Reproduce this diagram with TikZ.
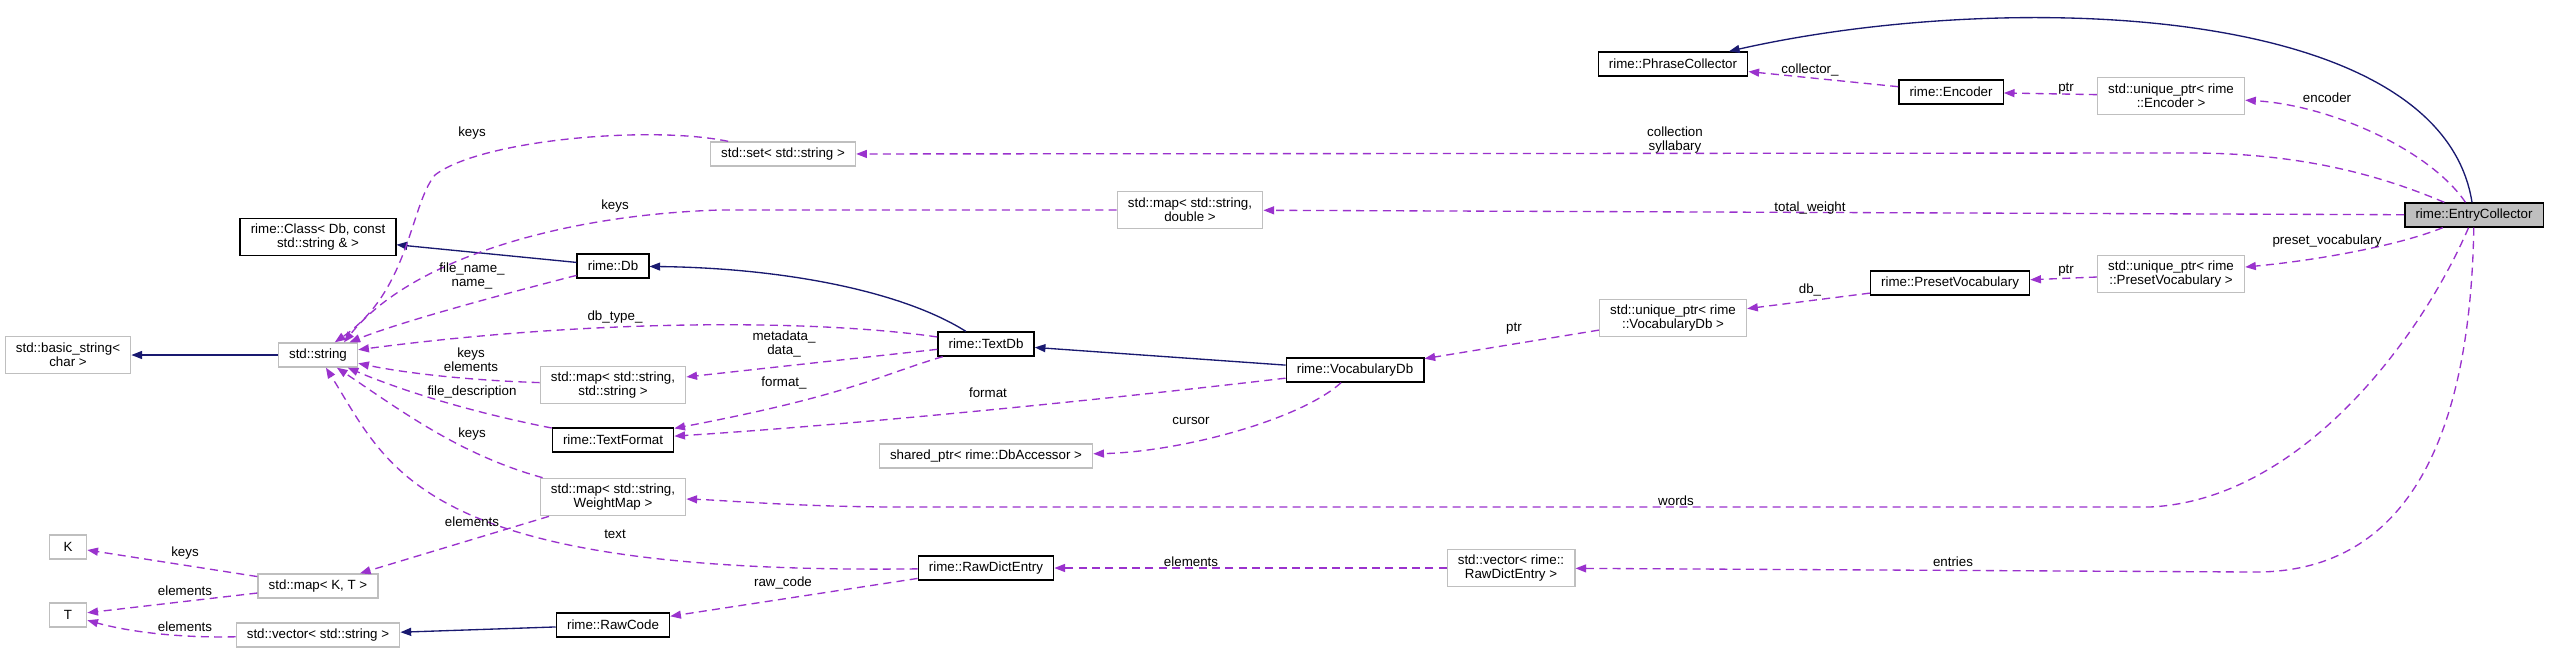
\documentclass[tikz,border=0pt]{standalone}
\usepackage{fontspec}
\setmainfont{Liberation Sans}
\usetikzlibrary{arrows.meta}

\begin{document}
\begin{tikzpicture}[x=0.75pt,y=-0.75pt,font=\fontsize{10}{10.5}\selectfont,
   clsbox/.style={draw=black,fill=white,line width=1pt,inner xsep=8pt,inner ysep=3pt,minimum height=18pt,minimum width=28pt,align=center},
   extbox/.style={clsbox,draw=extgray},
   curbox/.style={clsbox,fill=extgray},
   tall/.style={minimum height=28pt},
   inherit/.style={draw=midblue,line width=1pt,-{Triangle[length=8pt,width=6pt]}},
   uses/.style={draw=usepurple,line width=1pt,dash pattern=on 6pt off 4pt,-{Triangle[length=8pt,width=6pt]}},
   lbl/.style={inner sep=0pt,align=center}]
   \definecolor{extgray}{HTML}{BFBFBF}
   \definecolor{midblue}{HTML}{191970}
   \definecolor{usepurple}{HTML}{9A32CD}
   \fill[white] (0,0) rectangle (2550,653);
   \useasboundingbox (0,0) rectangle (2550,653);

   \node[curbox] (ec) at (2474,215) {rime::EntryCollector};
   \node[clsbox] (phrase) at (1673,64) {rime::PhraseCollector};
   \node[clsbox] (enc) at (1951,92) {rime::Encoder};
   \node[extbox,tall] (uenc) at (2171,96) {std::unique\_ptr< rime\\::Encoder >};
   \node[clsbox] (pv) at (1950,283) {rime::PresetVocabulary};
   \node[extbox,tall] (upv) at (2171,274) {std::unique\_ptr< rime\\::PresetVocabulary >};
   \node[extbox,tall] (uvdb) at (1673,318) {std::unique\_ptr< rime\\::VocabularyDb >};
   \node[clsbox] (vdb) at (1355,370) {rime::VocabularyDb};
   \node[clsbox] (tdb) at (986,344) {rime::TextDb};
   \node[extbox] (set) at (783,154) {std::set< std::string >};
   \node[extbox,tall] (mapd) at (1190,210) {std::map< std::string,\\double >};
   \node[extbox] (sptr) at (986,456) {shared\_ptr< rime::DbAccessor >};
   \node[clsbox] (db) at (613,266) {rime::Db};
   \node[clsbox,tall] (cls) at (318,237) {rime::Class< Db, const\\std::string \& >};
   \node[extbox,tall] (bstr) at (68,355) {std::basic\_string<\\char >};
   \node[extbox] (str) at (318,355) {std::string};
   \node[extbox,tall] (maps) at (613,385) {std::map< std::string,\\std::string >};
   \node[clsbox] (tf) at (613,440) {rime::TextFormat};
   \node[extbox,tall] (mapwm) at (613,497) {std::map< std::string,\\WeightMap >};
   \node[extbox] (k) at (68,547) {K};
   \node[extbox] (mapkt) at (318,586) {std::map< K, T >};
   \node[extbox] (t) at (68,615) {T};
   \node[extbox] (vecs) at (318,635) {std::vector< std::string >};
   \node[clsbox] (rawcode) at (613,625) {rime::RawCode};
   \node[clsbox] (rde) at (986,568) {rime::RawDictEntry};
   \node[extbox,tall] (vrde) at (1511,568) {std::vector< rime::\\RawDictEntry >};

   \draw[inherit] (ec) .. controls (2440,0) and (2000,-10) .. (phrase);
   \draw[inherit] (db) -- (cls);
   \draw[inherit] (tdb) .. controls (900,290) and (780,268) .. (db);
   \draw[inherit] (vdb) -- (tdb);
   \draw[inherit] (str) -- (bstr);
   \draw[inherit] (rawcode) -- (vecs);

   \draw[uses] (enc) -- (phrase);
   \draw[uses] (uenc) -- (enc);
   \draw[uses] (ec) .. controls (2430,150) and (2330,105) .. (uenc);
   \draw[uses] (ec) .. controls (2380,175) and (2300,153) .. (2190,153) -- (set);
   \draw[uses] (ec) -- (mapd);
   \draw[uses] (ec) .. controls (2400,245) and (2320,260) .. (upv);
   \draw[uses] (upv) -- (pv);
   \draw[uses] (pv) -- (uvdb);
   \draw[uses] (uvdb) -- (vdb);
   \draw[uses] (vdb) .. controls (1100,400) and (850,425) .. (tf);
   \draw[uses] (tdb) .. controls (880,375) and (850,395) .. (tf);
   \draw[uses] (tdb) -- (maps);
   \draw[uses] (vdb) .. controls (1300,420) and (1180,452) .. (sptr);
   \draw[uses] (ec) .. controls (2420,340) and (2300,500) .. (2150,507) -- (900,507) .. controls (800,507) and (720,500) .. (mapwm);
   \draw[uses] (ec) .. controls (2470,450) and (2400,575) .. (2250,572) -- (vrde);
   \draw[uses] (vrde) -- (rde);
   \draw[uses] (rde) -- (rawcode);
   \draw[uses] (rde) .. controls (420,575) and (390,470) .. (str);
   \draw[uses] (mapwm) .. controls (460,455) and (400,410) .. (str);
   \draw[uses] (tf) .. controls (470,412) and (400,390) .. (str);
   \draw[uses] (maps) .. controls (460,380) and (400,372) .. (str);
   \draw[uses] (tdb) .. controls (820,320) and (600,318) .. (str);
   \draw[uses] (db) .. controls (500,295) and (400,322) .. (str);
   \draw[uses] (mapd) -- (720,210) .. controls (560,215) and (410,260) .. (str.26);
   \draw[uses] (set.167) .. controls (650,125) and (480,140) .. (435,175) .. controls (410,205) and (410,290) .. (str.37);
   \draw[uses] (mapwm) -- (mapkt);
   \draw[uses] (mapkt) -- (k);
   \draw[uses] (mapkt) -- (t);
   \draw[uses] (vecs) .. controls (180,638) and (130,632) .. (t);

   \node[lbl] (lcollector) at (1810,70) {collector\_};
   \node[lbl] (lptrenc) at (2066,89) {ptr};
   \node[lbl] (lencoder) at (2327,98) {encoder};
   \node[lbl] (lcoll) at (1675,140) {collection\\syllabary};
   \node[lbl] (ltotal) at (1810,208) {total\_weight};
   \node[lbl] (lpreset) at (2327,241) {preset\_vocabulary};
   \node[lbl] (lptrpv) at (2066,271) {ptr};
   \node[lbl] (ldb) at (1810,290) {db\_};
   \node[lbl] (lptrvdb) at (1514,329) {ptr};
   \node[lbl] (lformat) at (988,393) {format};
   \node[lbl] (lformatu) at (784,383) {format\_};
   \node[lbl] (lmeta) at (784,344) {metadata\_\\data\_};
   \node[lbl] (lcursor) at (1191,421) {cursor};
   \node[lbl] (lwords) at (1676,501) {words};
   \node[lbl] (lentries) at (1953,562) {entries};
   \node[lbl] (lelemrde) at (1191,562) {elements};
   \node[lbl] (lrawcode) at (783,583) {raw\_code};
   \node[lbl] (ltext) at (615,534) {text};
   \node[lbl] (lkeyswm) at (472,434) {keys};
   \node[lbl] (lfiledesc) at (472,392) {file\_description};
   \node[lbl] (lkeyselem) at (471,360) {keys\\elements};
   \node[lbl] (ldbtype) at (615,317) {db\_type\_};
   \node[lbl] (lfilename) at (472,276) {file\_name\_\\name\_};
   \node[lbl] (lkeysmapd) at (615,206) {keys};
   \node[lbl] (lkeysset) at (472,133) {keys};
   \node[lbl] (lelemwm) at (472,522) {elements};
   \node[lbl] (lkeyskt) at (185,553) {keys};
   \node[lbl] (lelemkt) at (185,591) {elements};
   \node[lbl] (lelemvec) at (185,627) {elements};
\end{tikzpicture}
\end{document}
